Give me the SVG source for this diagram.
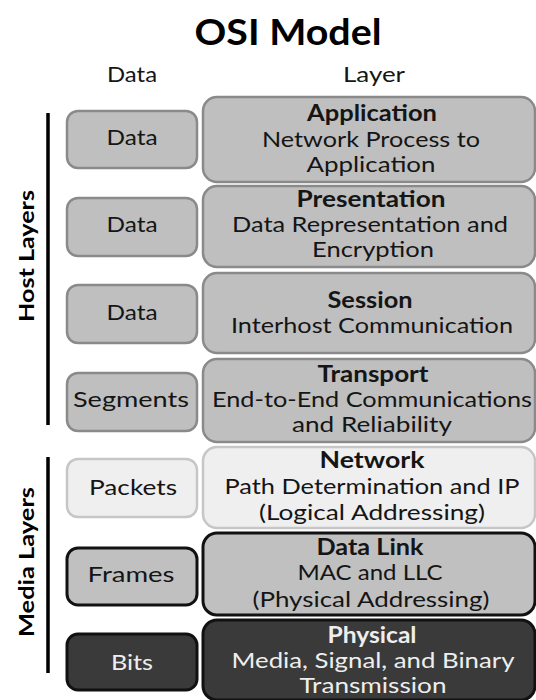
<svg xmlns="http://www.w3.org/2000/svg" width="536" height="700" viewBox="0 0 536 700">
  <style>
    text { font-family: Lato, "Noto Sans", "Liberation Sans", sans-serif; text-anchor: middle; fill: #151515; }
    .title { font-size: 37px; font-weight: bold; fill: #000; }
    .head { font-size: 21px; }
    .side { font-size: 21px; font-weight: bold; fill: #000; }
    .unit { font-size: 22px; }
    .name { font-size: 22px; font-weight: bold; }
    .desc { font-size: 22px; }
    .mid { fill: #bfbfbf; stroke: #8a8a8a; stroke-width: 2.5; }
    .light { fill: #efefef; stroke: #c6c6c6; stroke-width: 2.5; }
    .outlined { fill: #c0c0c0; stroke: #111; stroke-width: 3; }
    .dark { fill: #3a3a3a; stroke: #111; stroke-width: 3; }
    .dark-text { fill: #eeeeee; }
    .bracket { stroke: #000; stroke-width: 3.5; fill: none; }
  </style>

  <text class="title" x="288" y="45" textLength="187" lengthAdjust="spacingAndGlyphs">OSI Model</text>
  <text class="head" x="132" y="82" textLength="50" lengthAdjust="spacingAndGlyphs">Data</text>
  <text class="head" x="374" y="82" textLength="62" lengthAdjust="spacingAndGlyphs">Layer</text>

  <!-- side brackets -->
  <g id="connectors">
    <line class="bracket" x1="48" y1="113" x2="48" y2="425"/>
    <line class="bracket" x1="48" y1="457" x2="48" y2="673"/>
  </g>
  <text class="side" transform="translate(34 256) rotate(-90)" textLength="132" lengthAdjust="spacingAndGlyphs">Host Layers</text>
  <text class="side" transform="translate(34 562) rotate(-90)" textLength="150" lengthAdjust="spacingAndGlyphs">Media Layers</text>

  <!-- data units -->
  <g id="unit-application">
    <rect class="mid" x="67" y="111" width="130" height="57" rx="11"/>
    <text class="unit" x="132" y="145" textLength="51" lengthAdjust="spacingAndGlyphs">Data</text>
  </g>
  <g id="unit-presentation">
    <rect class="mid" x="67" y="198" width="130" height="58" rx="11"/>
    <text class="unit" x="132" y="232" textLength="51" lengthAdjust="spacingAndGlyphs">Data</text>
  </g>
  <g id="unit-session">
    <rect class="mid" x="67" y="285" width="130" height="58" rx="11"/>
    <text class="unit" x="132" y="320" textLength="51" lengthAdjust="spacingAndGlyphs">Data</text>
  </g>
  <g id="unit-transport">
    <rect class="mid" x="67" y="373" width="130" height="58" rx="11"/>
    <text class="unit" x="131" y="407" textLength="116" lengthAdjust="spacingAndGlyphs">Segments</text>
  </g>
  <g id="unit-network">
    <rect class="light" x="67" y="459" width="130" height="58" rx="11"/>
    <text class="unit" x="133" y="495" textLength="88" lengthAdjust="spacingAndGlyphs">Packets</text>
  </g>
  <g id="unit-datalink">
    <rect class="outlined" x="67" y="548" width="130" height="57" rx="11"/>
    <text class="unit" x="131" y="582" textLength="87" lengthAdjust="spacingAndGlyphs">Frames</text>
  </g>
  <g id="unit-physical">
    <rect class="dark" x="67" y="634" width="130" height="56" rx="11"/>
    <text class="unit dark-text" x="132" y="670" textLength="42" lengthAdjust="spacingAndGlyphs">Bits</text>
  </g>

  <!-- layers -->
  <g id="layer-application">
    <rect class="mid" x="203" y="97" width="332" height="85" rx="14"/>
    <text class="name" x="372" y="121" textLength="130" lengthAdjust="spacingAndGlyphs">Application</text>
    <text class="desc" x="371" y="147" textLength="218" lengthAdjust="spacingAndGlyphs">Network Process to</text>
    <text class="desc" x="371" y="172" textLength="129" lengthAdjust="spacingAndGlyphs">Application</text>
  </g>
  <g id="layer-presentation">
    <rect class="mid" x="203" y="186" width="332" height="81" rx="14"/>
    <text class="name" x="371" y="207" textLength="149" lengthAdjust="spacingAndGlyphs">Presentation</text>
    <text class="desc" x="370" y="232" textLength="276" lengthAdjust="spacingAndGlyphs">Data Representation and</text>
    <text class="desc" x="373" y="257" textLength="122" lengthAdjust="spacingAndGlyphs">Encryption</text>
  </g>
  <g id="layer-session">
    <rect class="mid" x="203" y="273" width="332" height="80" rx="14"/>
    <text class="name" x="370" y="308" textLength="85" lengthAdjust="spacingAndGlyphs">Session</text>
    <text class="desc" x="372" y="333" textLength="282" lengthAdjust="spacingAndGlyphs">Interhost Communication</text>
  </g>
  <g id="layer-transport">
    <rect class="mid" x="203" y="359" width="332" height="83" rx="14"/>
    <text class="name" x="373" y="382" textLength="111" lengthAdjust="spacingAndGlyphs">Transport</text>
    <text class="desc" x="372" y="407" textLength="320" lengthAdjust="spacingAndGlyphs">End-to-End Communications</text>
    <text class="desc" x="372" y="432" textLength="160" lengthAdjust="spacingAndGlyphs">and Reliability</text>
  </g>
  <g id="layer-network">
    <rect class="light" x="203" y="447" width="332" height="81" rx="14"/>
    <text class="name" x="372" y="468" textLength="105" lengthAdjust="spacingAndGlyphs">Network</text>
    <text class="desc" x="372" y="494" textLength="295" lengthAdjust="spacingAndGlyphs">Path Determination and IP</text>
    <text class="desc" x="372" y="520" textLength="226" lengthAdjust="spacingAndGlyphs">(Logical Addressing)</text>
  </g>
  <g id="layer-datalink">
    <rect class="outlined" x="203" y="533" width="332" height="82" rx="14"/>
    <text class="name" x="370" y="555" textLength="107" lengthAdjust="spacingAndGlyphs">Data Link</text>
    <text class="desc" x="370" y="580" textLength="145" lengthAdjust="spacingAndGlyphs">MAC and LLC</text>
    <text class="desc" x="371" y="607" textLength="237" lengthAdjust="spacingAndGlyphs">(Physical Addressing)</text>
  </g>
  <g id="layer-physical">
    <rect class="dark" x="203" y="620" width="332" height="80" rx="14"/>
    <text class="name dark-text" x="372" y="643" textLength="89" lengthAdjust="spacingAndGlyphs">Physical</text>
    <text class="desc dark-text" x="373" y="668" textLength="283" lengthAdjust="spacingAndGlyphs">Media, Signal, and Binary</text>
    <text class="desc dark-text" x="373" y="693" textLength="147" lengthAdjust="spacingAndGlyphs">Transmission</text>
  </g>
</svg>
